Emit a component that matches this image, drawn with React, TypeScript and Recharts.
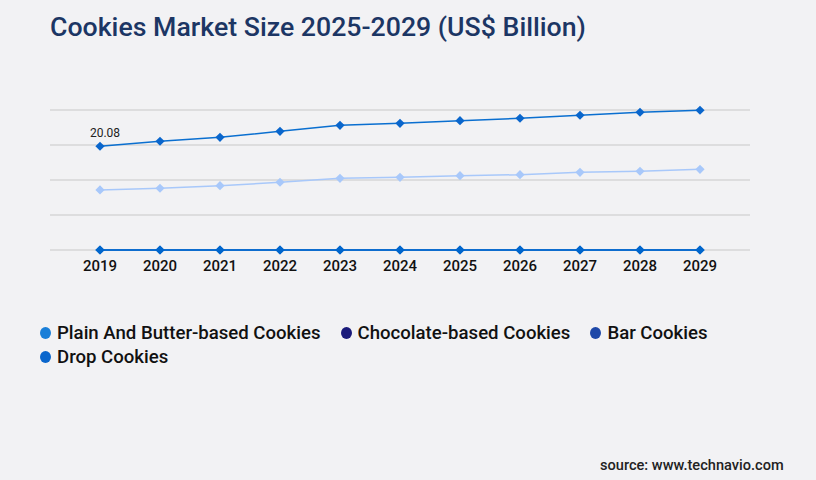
import React from "react";
import { LineChart, Line, XAxis, YAxis, CartesianGrid, LabelList } from "recharts";

const years = ["2019", "2020", "2021", "2022", "2023", "2024", "2025", "2026", "2027", "2028", "2029"];
const plainButter = [20.08, 21.05, 21.82, 22.98, 24.14, 24.53, 25.03, 25.5, 26.08, 26.66, 27.05];
const chocolate = [11.62, 11.95, 12.45, 13.11, 13.88, 14.07, 14.38, 14.58, 15.04, 15.24, 15.62];
const barCookies = [0, 0, 0, 0, 0, 0, 0, 0, 0, 0, 0];
const dropCookies = [0, 0, 0, 0, 0, 0, 0, 0, 0, 0, 0];
const yTicks = [0, 6.775, 13.55, 20.325, 27.1];

const legendItems = [
  { name: "Plain And Butter-based Cookies", color: "#1a7fd8" },
  { name: "Chocolate-based Cookies", color: "#1a1a7a" },
  { name: "Bar Cookies", color: "#1e48a8" },
  { name: "Drop Cookies", color: "#0a66cc" },
];

const data = years.map((year, i) => ({
  year,
  plain: plainButter[i],
  chocolate: chocolate[i],
  bar: barCookies[i],
  drop: dropCookies[i],
}));

const diamond = (color: string) => (props: any) => {
  const { cx, cy, index } = props;
  if (cx == null || cy == null) return null;
  const r = 4.6;
  return (
    <path
      key={`d-${index}`}
      d={`M${cx},${cy - r}L${cx + r},${cy}L${cx},${cy + r}L${cx - r},${cy}Z`}
      fill={color}
    />
  );
};

const firstLabel = (props: any) => {
  const { x, y, value, index } = props;
  if (index !== 0) return null;
  return (
    <text x={x + 5} y={y - 9} textAnchor="middle" fontSize={12} fill="#222" fontFamily="Roboto">
      {value}
    </text>
  );
};

function ChartLegend() {
  return (
    <div
      style={{
        position: "absolute",
        left: 40,
        top: 321,
        width: 720,
        display: "flex",
        flexWrap: "wrap",
        fontFamily: "Roboto",
        fontWeight: 500,
        fontSize: 18.6,
        color: "#111",
      }}
    >
      {legendItems.map((item) => (
        <div key={item.name} style={{ display: "flex", alignItems: "center", marginRight: 20, height: 24 }}>
          <span
            style={{
              display: "inline-block",
              width: 11,
              height: 12,
              borderRadius: "50%",
              background: item.color,
              marginRight: 6,
            }}
          />
          <span>{item.name}</span>
        </div>
      ))}
    </div>
  );
}

export default function App() {
  return (
    <div style={{ position: "absolute", left: 0, top: 0, width: 816, height: 480, background: "#f2f2f4", overflow: "hidden" }}>
      <div
        style={{
          position: "absolute",
          left: 50,
          top: 11,
          fontFamily: "Roboto",
          fontWeight: 500,
          fontSize: 26.7,
          color: "#1c3664",
          whiteSpace: "nowrap",
        }}
      >
        Cookies Market Size 2025-2029 (US$ Billion)
      </div>
      <LineChart width={816} height={480} data={data} margin={{ top: 110, right: 66, bottom: 200, left: 50 }}>
        <CartesianGrid vertical={false} stroke="#c8c8c8" strokeWidth={1} />
        <YAxis hide domain={[0, 27.1]} ticks={yTicks} />
        <XAxis
          dataKey="year"
          axisLine={false}
          tickLine={false}
          padding={{ left: 50, right: 50 }}
          tick={{ fontFamily: "Roboto", fontWeight: 500, fontSize: 15, fill: "#111", dy: 2 }}
          interval={0}
        />
        <Line dataKey="bar" stroke="#0066cc" strokeWidth={1.5} dot={diamond("#0066cc")} activeDot={false} isAnimationActive={false} />
        <Line dataKey="drop" stroke="#0066cc" strokeWidth={1.5} dot={diamond("#0066cc")} activeDot={false} isAnimationActive={false} />
        <Line dataKey="chocolate" stroke="#a8c8fa" strokeWidth={1.5} dot={diamond("#a8c8fa")} activeDot={false} isAnimationActive={false} />
        <Line dataKey="plain" stroke="#0a6fd0" strokeWidth={1.5} dot={diamond("#0a66cc")} activeDot={false} isAnimationActive={false}>
          <LabelList dataKey="plain" content={firstLabel} />
        </Line>
      </LineChart>
      <ChartLegend />
      <div
        style={{
          position: "absolute",
          left: 600,
          top: 456,
          fontFamily: "Roboto",
          fontWeight: 500,
          fontSize: 14.6,
          color: "#222",
          whiteSpace: "nowrap",
        }}
      >
        source: www.technavio.com
      </div>
    </div>
  );
}
